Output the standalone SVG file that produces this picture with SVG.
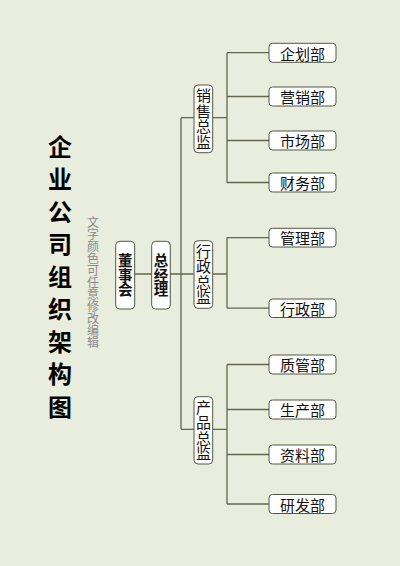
<svg xmlns="http://www.w3.org/2000/svg" width="400" height="566" viewBox="0 0 400 566">
<style>
.bx{fill:#ffffff;stroke:#555548;stroke-width:1}
.ln{fill:none;stroke:#666650;stroke-width:1.3}
.vt{font-family:"Noto Sans CJK SC","Liberation Sans",sans-serif;writing-mode:vertical-rl;text-anchor:middle;dominant-baseline:central;fill:#111}
.ht{font-family:"Noto Sans CJK SC","Liberation Sans",sans-serif;font-size:15px;text-anchor:middle;dominant-baseline:central;fill:#111}
.sub{fill:#8a8a8a}
.ttl{fill:#000}
</style>
<rect width="400" height="566" fill="#e9eddd"/>
<g id="title">
<text class="vt ttl" x="60" y="281" font-size="24" font-weight="bold" letter-spacing="8.5">企业公司组织架构图</text>
</g>
<g id="subtitle">
<text class="vt sub" x="93" y="282" font-size="12">文字颜色可任意修改编辑</text>
</g>
<g id="connectors">
<path class="ln" d="M134.7 274H193.7M181 117.7V429.3M181 117.7H194M181 429.3H194"/>
<path class="ln" d="M212.7 117.7H227M227 52.7V182.7M227 52.7H269M227 96.5H269M227 140.5H269M227 182.5H269"/>
<path class="ln" d="M212.7 274H227M227 237.6V308.2M227 237.6H269M227 308.2H269"/>
<path class="ln" d="M212.7 429.3H227M227 364.5V504M227 364.5H269M227 409.5H269M227 454.5H269M227 504H269"/>
</g>
<g id="dongshihui"><rect class="bx" x="115.7" y="241.3" width="19" height="67.7" rx="4"/><text class="vt" x="125.2" y="275" font-size="14.5" font-weight="bold">董事会</text></g>
<g id="zongjingli"><rect class="bx" x="151.7" y="241.3" width="18.6" height="67.7" rx="4"/><text class="vt" x="161" y="275" font-size="14.5" font-weight="bold">总经理</text></g>
<g id="xiaoshou"><rect class="bx" x="194" y="85" width="18.7" height="67.7" rx="4"/><text class="vt" x="203.4" y="119" font-size="15" letter-spacing="0.5">销售总监</text></g>
<g id="xingzheng"><rect class="bx" x="194" y="240.7" width="18.7" height="67.6" rx="4"/><text class="vt" x="203.4" y="274.5" font-size="15" letter-spacing="0.5">行政总监</text></g>
<g id="chanpin"><rect class="bx" x="194" y="396.7" width="18.7" height="67.3" rx="4"/><text class="vt" x="203.4" y="430.4" font-size="15" letter-spacing="0.5">产品总监</text></g>
<g id="qihua"><rect class="bx" x="269" y="43.3" width="67" height="19" rx="3.5"/><text class="ht" x="302.5" y="53">企划部</text></g>
<g id="yingxiao"><rect class="bx" x="269" y="87" width="67" height="19" rx="3.5"/><text class="ht" x="302.5" y="96.7">营销部</text></g>
<g id="shichang"><rect class="bx" x="269" y="131" width="67" height="19" rx="3.5"/><text class="ht" x="302.5" y="140.7">市场部</text></g>
<g id="caiwu"><rect class="bx" x="269" y="173" width="67" height="19" rx="3.5"/><text class="ht" x="302.5" y="182.7">财务部</text></g>
<g id="guanli"><rect class="bx" x="269" y="228.3" width="67" height="18.7" rx="3.5"/><text class="ht" x="302.5" y="237.8">管理部</text></g>
<g id="xingzhengbu"><rect class="bx" x="269" y="299" width="67" height="18.5" rx="3.5"/><text class="ht" x="302.5" y="308.4">行政部</text></g>
<g id="zhiguan"><rect class="bx" x="269" y="355" width="67" height="19" rx="3.5"/><text class="ht" x="302.5" y="364.7">质管部</text></g>
<g id="shengchan"><rect class="bx" x="269" y="400" width="67" height="19" rx="3.5"/><text class="ht" x="302.5" y="409.7">生产部</text></g>
<g id="ziliao"><rect class="bx" x="269" y="445" width="67" height="19" rx="3.5"/><text class="ht" x="302.5" y="454.7">资料部</text></g>
<g id="yanfa"><rect class="bx" x="269" y="494.5" width="67" height="19" rx="3.5"/><text class="ht" x="302.5" y="504.2">研发部</text></g>
</svg>
